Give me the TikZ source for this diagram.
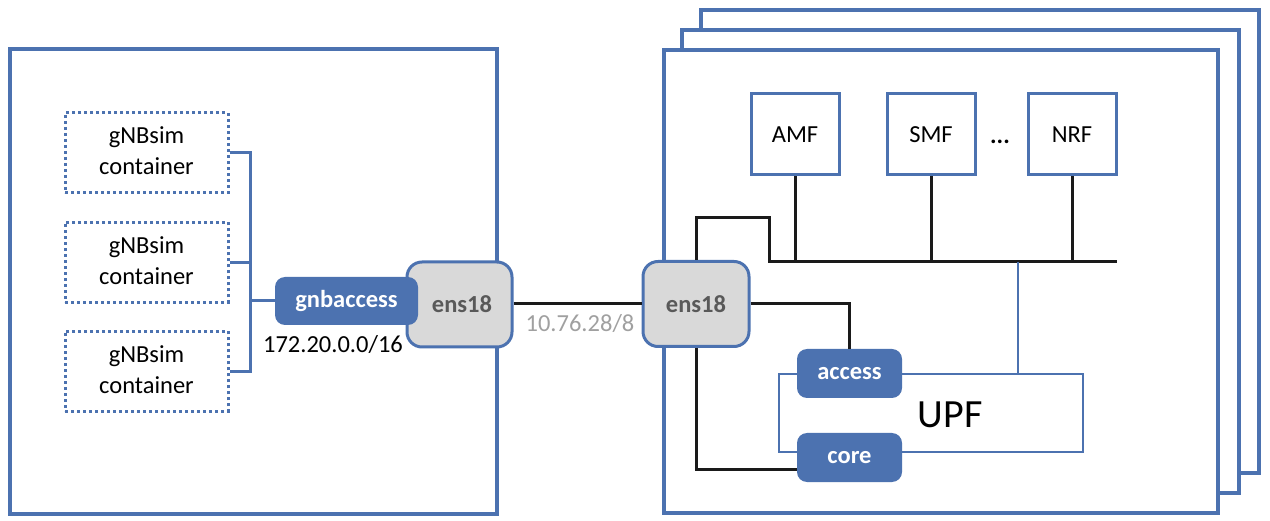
\documentclass[tikz,border=0pt]{standalone}
\usepackage{fontspec}
\setmainfont{Carlito}
\definecolor{bl}{RGB}{76,114,176}
\definecolor{gf}{RGB}{217,217,217}
\definecolor{gt}{RGB}{89,89,89}
\definecolor{lt}{RGB}{160,160,160}
\definecolor{ink}{RGB}{26,26,26}
\newcommand{\gnbtext}{\raisebox{-2pt}{\begin{tabular}{@{}c@{}}gNBsim\\container\end{tabular}}}
\tikzset{
  txt/.style={font=\fontsize{24.5}{31}\selectfont},
  frame/.style={draw=bl, line width=4pt, fill=white},
  gnb/.style={draw=bl, line width=3pt, dash pattern=on 3pt off 3pt, minimum width=163pt, minimum height=80pt, inner sep=0pt, txt},
  nf/.style={draw=bl, line width=3pt, fill=white, minimum width=88pt, minimum height=81pt, inner sep=0pt, txt},
  port/.style={fill=bl, rounded corners=10pt, text=white, font=\bfseries\fontsize{24.5}{28}\selectfont, minimum width=105pt, minimum height=49pt, inner sep=0pt},
  ens/.style={draw=bl, line width=3pt, fill=gf, rounded corners=15pt, text=gt, font=\bfseries\fontsize{24.5}{28}\selectfont, minimum width=106pt, minimum height=85pt, inner sep=0pt},
  bline/.style={line width=3pt, draw=ink},
  cline/.style={line width=3pt, draw=bl},
}
\begin{document}
\begin{tikzpicture}[x=1pt,y=-1pt]
\useasboundingbox (0,0) rectangle (1270,521);
% left host
\draw[frame] (10,49) rectangle (497,514);
% right hosts (stacked)
\draw[frame] (701,10) rectangle (1259,473);
\draw[frame] (682,30) rectangle (1239,493);
\draw[frame] (664,50) rectangle (1218,513);

% gNBsim containers
\node[gnb] (g1) at (146.5,153) {\gnbtext};
\node[gnb] (g2) at (146.5,262.5) {\gnbtext};
\node[gnb] (g3) at (146.5,371.5) {\gnbtext};
\coordinate (jx) at (250,0);

% interfaces left
\node[ens, minimum width=105pt] (ensL) at (459.5,304.5) {\hspace*{5pt}ens18};
\node[port, minimum width=143pt, minimum height=48pt] (gnba) at (346.5,301) {gnbaccess};
\node[txt, inner sep=0pt] (net1) at (333,345) {172.20.0.0/16};

\draw[cline] (g1.east) -- (g1.east -| jx) |- (g3.east);
\draw[cline] (g2.east) -- (g2.east -| jx);
\draw[cline] (gnba.west) -- (gnba.west -| jx);

% right ens18
\node[ens] (ensR) at (696,304) {ens18};
\draw[bline] (ensL.east |- ensR.west) -- (ensR.west);
\node[txt, text=lt, inner sep=0pt] (net2) at (580,324) {10.76.28/8};

% network functions
\node[nf] (amf) at (795,134.5) {AMF};
\node[nf] (smf) at (931,134.5) {SMF};
\node[nf] (nrf) at (1072,134.5) {NRF};
\node[txt, inner sep=0pt] (dots) at (1000,142) {\textbf{...}};

\coordinate (kink) at (769,218);
\coordinate (busR) at (1117,262);
\coordinate (tap) at (1018,262);
\draw[bline] (ensR.north) |- (kink) |- (busR);
\draw[bline] (amf.south) -- (amf.south |- busR);
\draw[bline] (smf.south) -- (smf.south |- busR);
\draw[bline] (nrf.south) -- (nrf.south |- busR);

% UPF
\node[draw=bl, line width=2.5pt, minimum width=304pt, minimum height=78pt, inner sep=0pt] (upf) at (931,413) {};
\node[inner sep=0pt, font=\fontsize{40}{44}\selectfont] (upflabel) at (950,415) {UPF};
\draw[line width=2.5pt, draw=bl] (tap) -- (upf.north -| tap);
\node[port] (acc) at (849.5,373.5) {access};
\node[port] (core) at (849.5,457.5) {core};
\draw[bline] (ensR.east) -| (acc.north);
\draw[bline] (ensR.south) |- ([yshift=-11.5pt]core.west);
\end{tikzpicture}
\end{document}
